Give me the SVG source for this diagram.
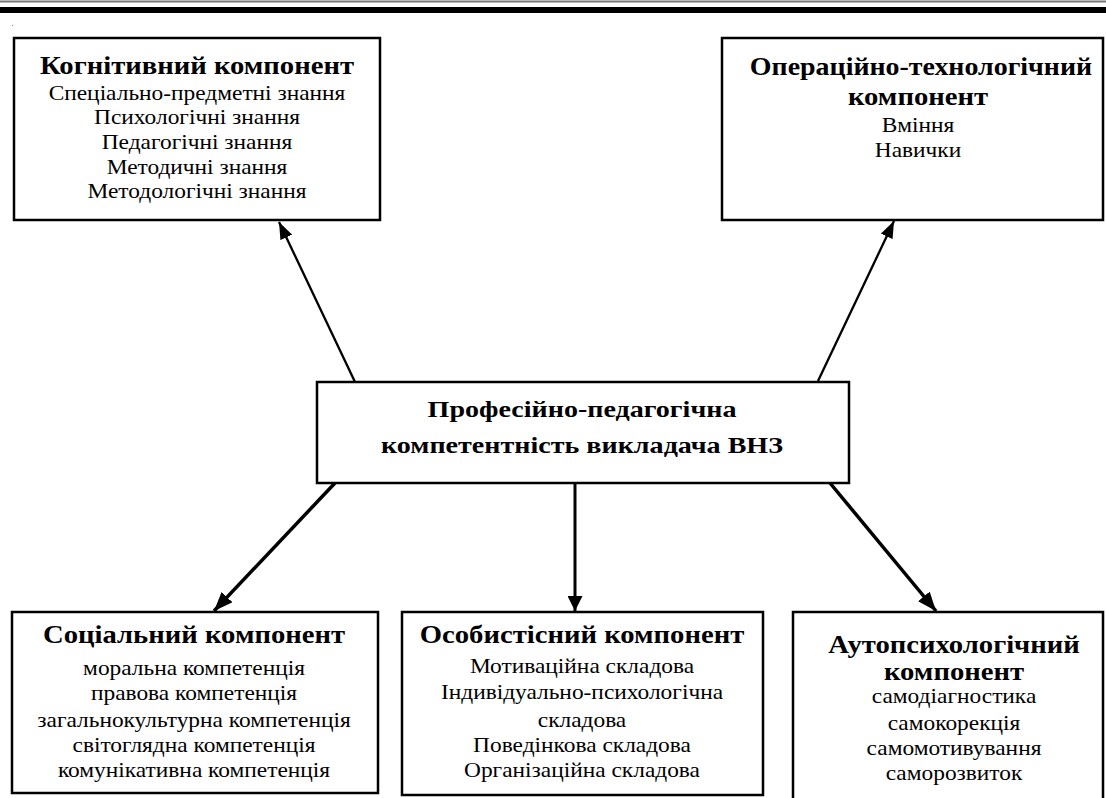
<svg xmlns="http://www.w3.org/2000/svg" width="1106" height="798" viewBox="0 0 1106 798">
<style>
.box{fill:#fff;stroke:#000;stroke-width:2.5}
text{font-family:"Liberation Serif","Times New Roman",serif;text-anchor:middle;fill:#000}
.t{font-weight:bold;font-size:24.5px}
.b{font-size:20px}
.c{font-weight:bold;font-size:24px}
.thin{stroke:#000;stroke-width:2.3;fill:none}
.thick{stroke:#000;stroke-width:3.5;fill:none}
.mid{stroke:#000;stroke-width:3;fill:none}
</style>
<defs>
<marker id="ah1" viewBox="0 0 17 13" refX="17" refY="6.5" markerWidth="17" markerHeight="13" orient="auto" markerUnits="userSpaceOnUse">
<path d="M0,0 L17,6.5 L0,13 z" fill="#000"/>
</marker>
<marker id="ah2" viewBox="0 0 19 15" refX="19" refY="7.5" markerWidth="19" markerHeight="15" orient="auto" markerUnits="userSpaceOnUse">
<path d="M0,0 L19,7.5 L0,15 z" fill="#000"/>
</marker>
<marker id="ah3" viewBox="0 0 15 15" refX="15" refY="7.5" markerWidth="15" markerHeight="15" orient="auto" markerUnits="userSpaceOnUse">
<path d="M0,0 L15,7.5 L0,15 z" fill="#000"/>
</marker>
</defs>
<rect x="0" y="0" width="1106" height="798" fill="#fff"/>
<g id="header">
<line x1="0" y1="1.5" x2="1106" y2="1.5" stroke="#777" stroke-width="2"/>
<line x1="0" y1="10" x2="1106" y2="10" stroke="#000" stroke-width="6"/>
<rect x="12" y="25" width="1" height="1" fill="#888"/>
</g>
<g id="connectors">
<line class="thin" x1="355" y1="382" x2="279" y2="222" marker-end="url(#ah1)"/>
<line class="thin" x1="818" y1="381" x2="894" y2="221" marker-end="url(#ah1)"/>
<line class="thick" x1="335" y1="483" x2="214" y2="611" marker-end="url(#ah2)"/>
<line class="mid" x1="575" y1="483" x2="575" y2="611" marker-end="url(#ah3)"/>
<line class="thick" x1="830" y1="483" x2="936" y2="611" marker-end="url(#ah2)"/>
</g>
<g id="cognitive">
<rect class="box" x="14" y="38" width="366" height="182"/>
<g transform="translate(197,0) scale(1.17,1)">
<text class="t" x="0" y="74">Когнітивний компонент</text>
<text class="b" x="0" y="100">Спеціально-предметні знання</text>
<text class="b" x="0" y="124.5">Психологічні знання</text>
<text class="b" x="0" y="149">Педагогічні знання</text>
<text class="b" x="0" y="174">Методичні знання</text>
<text class="b" x="0" y="198">Методологічні знання</text>
</g>
</g>
<g id="operational">
<rect class="box" x="722" y="38" width="381" height="182"/>
<g transform="translate(921,0) scale(1.14,1)">
<text class="t" x="0" y="75">Операційно-технологічний</text>
</g>
<g transform="translate(918,0) scale(1.17,1)">
<text class="t" x="0" y="105">компонент</text>
<text class="b" x="0" y="132">Вміння</text>
<text class="b" x="0" y="157">Навички</text>
</g>
</g>
<g id="center">
<rect class="box" x="317" y="382" width="532" height="101"/>
<g transform="translate(582,0) scale(1.17,1)">
<text class="c" x="0" y="417">Професійно-педагогічна</text>
<text class="c" x="0" y="453">компетентність викладача ВНЗ</text>
</g>
</g>
<g id="social">
<rect class="box" x="12" y="612" width="366" height="181"/>
<g transform="translate(194,0) scale(1.17,1)">
<text class="t" x="0" y="643">Соціальний компонент</text>
<text class="b" x="0" y="675">моральна компетенція</text>
<text class="b" x="0" y="700">правова компетенція</text>
<text class="b" x="0" y="727">загальнокультурна компетенція</text>
<text class="b" x="0" y="752">світоглядна компетенція</text>
<text class="b" x="0" y="777">комунікативна компетенція</text>
</g>
</g>
<g id="personal">
<rect class="box" x="402" y="612" width="361" height="183"/>
<g transform="translate(582,0) scale(1.17,1)">
<text class="t" x="0" y="643">Особистісний компонент</text>
<text class="b" x="0" y="673">Мотиваційна складова</text>
<text class="b" x="0" y="699">Індивідуально-психологічна</text>
<text class="b" x="0" y="727">складова</text>
<text class="b" x="0" y="752">Поведінкова складова</text>
<text class="b" x="0" y="777">Організаційна складова</text>
</g>
</g>
<g id="autopsych">
<path class="box" d="M793,800 L793,612 L1103,612 L1103,800"/>
<g transform="translate(954,0) scale(1.17,1)">
<text class="t" x="0" y="653">Аутопсихологічний</text>
<text class="t" x="0" y="680">компонент</text>
<text class="b" x="0" y="703">самодіагностика</text>
<text class="b" x="0" y="730">самокорекція</text>
<text class="b" x="0" y="755">самомотивування</text>
<text class="b" x="0" y="780">саморозвиток</text>
</g>
</g>
</svg>
